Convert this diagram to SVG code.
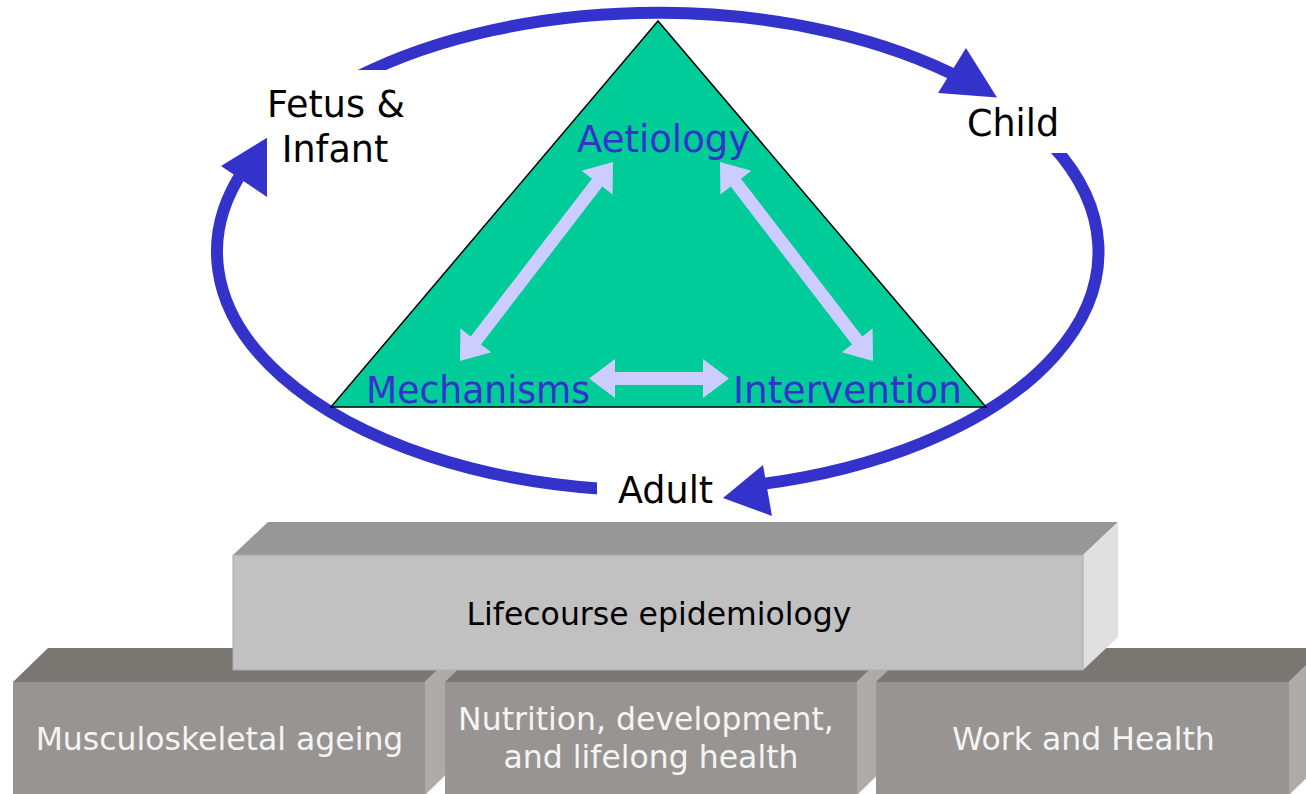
<svg xmlns="http://www.w3.org/2000/svg" width="1306" height="794" viewBox="0 0 1306 794">
<style>
.cyc{fill:none;stroke:#3333CC;stroke-width:12;stroke-linecap:butt}
.head{fill:#3333CC}
.bg{fill:#FFFFFF}
.lbl{font-family:"DejaVu Sans",Verdana,sans-serif;font-size:36.5px;fill:#000000}
.tri-lbl{font-family:"DejaVu Sans",Verdana,sans-serif;font-size:37px;fill:#3333CC}
.inner{fill:#CCCCFF}
.blk{font-family:"DejaVu Sans",Verdana,sans-serif;font-size:31.5px;text-anchor:middle}
.bfront{fill:#989491}
.btop{fill:#7A7672}
.bside{fill:#AEAAA7}
</style>
<g id="connectors">
  <path class="cyc" d="M357.16,76.96 A440.75,239 0 0 1 963.92,79.83"/>
  <polygon class="head" points="966,48 938,93 997,97.5"/>
  <path class="cyc" d="M1052.19,145.11 A440.75,239 0 0 1 750.14,485.44"/>
  <polygon class="head" points="763,465 772,516 723,498"/>
  <path class="cyc" d="M604.8,489.02 A440.75,239 0 0 1 243.58,170.01"/>
  <polygon class="head" points="221,166 278,131 270,199"/>
</g>
<g id="fetus-infant">
  <rect class="bg" x="267" y="70" width="158" height="135"/>
  <text class="lbl" x="336" y="117" text-anchor="middle">Fetus &amp;</text>
  <text class="lbl" x="335" y="162" text-anchor="middle">Infant</text>
</g>
<g id="child">
  <rect class="bg" x="945" y="98" width="140" height="55"/>
  <text class="lbl" x="967" y="136">Child</text>
</g>
<g id="adult">
  <rect class="bg" x="597" y="470" width="125" height="45"/>
  <text class="lbl" x="618" y="503">Adult</text>
</g>
<g id="triangle">
  <polygon points="658,21 331,407 986,407" fill="#00CC99" stroke="#000000" stroke-width="1.5" stroke-linejoin="miter"/>
  <polygon class="inner" points="613,162 612.6,194.5 602.3,186.6 481,344.4 491.3,352.3 460,361 460.4,328.5 470.7,336.4 592,178.65 581.7,170.7"/>
  <polygon class="inner" points="720,162 720.4,194.5 730.7,186.6 852,344.4 841.7,352.3 873,361 872.6,328.5 862.3,336.4 741,178.65 751.3,170.7"/>
  <polygon class="inner" points="589,378.5 615,359 615,372 703,372 703,359 729,378.5 703,398 703,385 615,385 615,398"/>
  <text class="tri-lbl" x="577" y="152">Aetiology</text>
  <text class="tri-lbl" x="366" y="403" textLength="224" lengthAdjust="spacingAndGlyphs">Mechanisms</text>
  <text class="tri-lbl" x="733" y="403" textLength="229" lengthAdjust="spacingAndGlyphs">Intervention</text>
</g>
<g id="musculoskeletal">
  <polygon class="btop" points="13,682 48,648 460,648 425,682"/>
  <polygon class="bside" points="425,682 460,648 460,761 425,795"/>
  <rect class="bfront" x="13" y="682" width="412" height="115"/>
  <text class="blk" x="219.5" y="750" fill="#F4F4F4">Musculoskeletal ageing</text>
</g>
<g id="nutrition">
  <polygon class="btop" points="445,682 480,648 892,648 857,682"/>
  <polygon class="bside" points="857,682 892,648 892,761 857,795"/>
  <rect class="bfront" x="445" y="682" width="412" height="115"/>
  <text class="blk" x="646" y="730" fill="#F4F4F4">Nutrition, development,</text>
  <text class="blk" x="651" y="768" fill="#F4F4F4">and lifelong health</text>
</g>
<g id="work-health">
  <polygon class="btop" points="876,682 911,648 1324,648 1289,682"/>
  <polygon class="bside" points="1289,682 1324,648 1324,761 1289,795"/>
  <rect class="bfront" x="876" y="682" width="413" height="115"/>
  <text class="blk" x="1083.5" y="750" fill="#F4F4F4">Work and Health</text>
</g>
<g id="lifecourse">
  <polygon points="233,555 268,522 1118,522 1083,555" fill="#979797"/>
  <polygon points="1083,555 1118,522 1118,637 1083,670" fill="#E0E0E0"/>
  <rect x="233" y="555" width="850" height="115" fill="#C1C1C1" stroke="#ABABAB" stroke-width="1"/>
  <text class="blk" x="659" y="625" fill="#000000">Lifecourse epidemiology</text>
</g>
</svg>
